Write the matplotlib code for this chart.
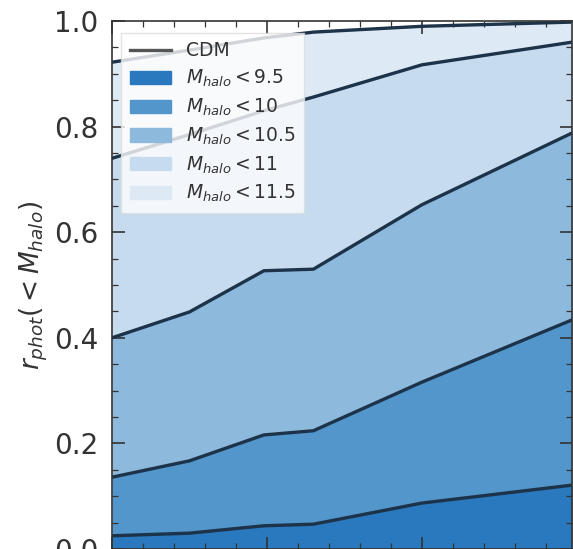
import matplotlib
matplotlib.use('Agg')
import matplotlib.pyplot as plt
from matplotlib.lines import Line2D
from matplotlib.patches import Patch
from matplotlib.ticker import MultipleLocator

# sample positions along x (arbitrary units, axis labels are cropped away)
x = [0.0, 0.5, 0.98, 1.3, 2.0, 2.97]

# cumulative fractions below each halo mass cut
f_95 = [0.025, 0.030, 0.044, 0.047, 0.087, 0.121]
f_10 = [0.136, 0.167, 0.216, 0.224, 0.316, 0.434]
f_105 = [0.400, 0.449, 0.527, 0.530, 0.652, 0.788]
f_11 = [0.740, 0.785, 0.830, 0.856, 0.917, 0.960]
f_115 = [0.922, 0.945, 0.968, 0.979, 0.990, 0.998]

labels = ['$M_{halo} < 9.5$', '$M_{halo} < 10$', '$M_{halo} < 10.5$',
          '$M_{halo} < 11$', '$M_{halo} < 11.5$']
colors = ['#2a78bd', '#5396cc', '#8db9dd', '#c6dbee', '#dde9f4']

curves = [f_95, f_10, f_105, f_11, f_115]

fig = plt.figure(figsize=(5.73, 5.49), dpi=100)
ax = fig.add_axes([0.1955, 0.0, 0.803, 0.9617])

lower = [0.0] * len(x)
for c, col in zip(curves, colors):
    ax.fill_between(x, lower, c, color=col, lw=0, zorder=1)
    lower = c

for c in curves:
    ax.plot(x, c, color='#1d3349', lw=2.4, zorder=2)

ax.set_xlim(0, 2.97)
ax.set_ylim(0, 1.0)
ax.xaxis.set_major_locator(MultipleLocator(1.0))
ax.xaxis.set_minor_locator(MultipleLocator(0.2))
ax.yaxis.set_major_locator(MultipleLocator(0.2))
ax.yaxis.set_minor_locator(MultipleLocator(0.05))
ax.tick_params(which='both', direction='in', top=True, right=True,
               labelsize=20, colors='#333333')
ax.tick_params(which='major', length=9, width=1.2, pad=10)
ax.tick_params(which='minor', length=4.5, width=0.9)
ax.set_xticklabels([])
ax.set_ylabel('$r_{phot}( < M_{halo})$', fontsize=19, color='#333333')
ax.yaxis.set_label_coords(-0.135, 0.5)
for s in ax.spines.values():
    s.set_color('#333333')
    s.set_linewidth(1.2)

handles = [Line2D([], [], color='#555555', lw=2.4)]
handles += [Patch(color=col) for col in colors]
leg = ax.legend(handles, ['CDM'] + labels, loc='upper left',
                fontsize=13.5, framealpha=0.8, fancybox=False,
                edgecolor='#dddddd', borderpad=0.45, labelspacing=0.4,
                handlelength=2.2, bbox_to_anchor=(0.0, 0.995))
for t in leg.get_texts():
    t.set_color('#333333')
leg.set_zorder(5)

fig.savefig('out.png', dpi=100)
